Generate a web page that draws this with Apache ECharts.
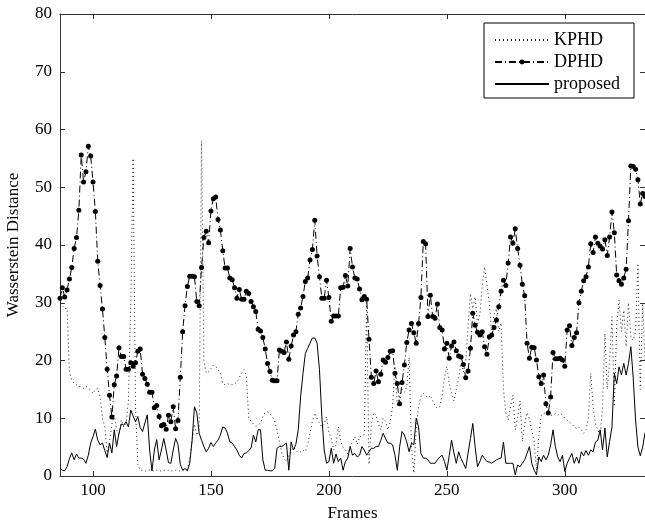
<!DOCTYPE html>
<html><head><meta charset="utf-8">
<script src="https://cdn.jsdelivr.net/npm/echarts@6/dist/echarts.min.js"></script>
<style>html,body{margin:0;padding:0;background:#fff}#c{width:645px;height:522px}</style>
</head><body><div id="c"></div>
<script>
const firstFrame = 86;
const xTicks = [100, 150, 200, 250, 300];
const seriesNames = ['KPHD', 'DPHD', 'proposed'];
const kphd = [30,29.5,29,29,18,16.6,16,15.8,15.5,15.5,15.2,15.5,15.3,14.8,14.3,15,15.2,13.7,10,8.5,4,6,9,10.5,8,7,9.7,8.5,9,13,30,55,12,2,1,1,0.8,1,1,1,0.8,1,1,0.8,1,1,1,0.8,1,1,1,0.8,1,1,1.2,3,6,9,7,8,58,20,17.8,18,18.6,19.2,19,18.4,17.8,16,15.8,16,15.8,15.8,16,16.2,17,17.8,18.4,17.5,10,9.5,9,8.6,8.8,9.2,10.3,11,11.1,10.8,10.3,9.5,8,6,4,3,2.5,3.5,4.2,5,4.5,4,4.2,4.5,4.2,5.5,7.5,9.5,10.9,10,9.2,8.5,9,10.3,7.5,6.5,4.5,5.5,8.5,6,5,4.5,3.8,5,6,6.8,5.5,6.8,7,7.2,30,2,9,11,10.5,9,8,10,9.5,8,9.5,12,19,12,14,15,14.5,15.5,20.5,5,0.5,8,12,13.7,14.3,14,13.5,14,13,12.2,11.7,12,14,17,19,16,14.5,13,15,17,19.5,18,20,26,31.6,29,31,26.4,28,33,36.2,33,30,24.7,28,29,25,26.5,15,11,9.7,12,14,8,10,13,6,9,11,10,8,6,1,7,10.5,10.8,11,10.8,10.5,10.6,10.8,10.5,10.8,10.6,10,9.7,9.3,9,8.5,8.2,8.5,8,7.4,8,10,17.8,12,9,8,7,12,24.7,15,20,27.6,12,26,30.5,25,28.7,22.4,30,24,23.5,25,36.8,15,30,20];
const dphd = [30.8,32.6,31,32.2,34.1,36.1,39.4,41.3,46,55.6,50.9,52.7,57.1,55.4,50.9,45.8,37.2,33,28.9,24,18.5,14,10.2,15.8,17.3,22.2,20.7,20.7,18.5,18.5,19.6,19,19.6,21.6,22,17.6,16.9,15.9,14.5,14.5,11.8,12.2,10.3,8.7,8.9,8.1,10.5,9.4,12,8.2,9.6,17.1,25,29.5,32.8,34.6,34.6,34.5,30.2,29.5,36.1,41.3,42.4,40.4,45.9,48,48.3,44.4,42.6,39,36,36,34.3,34,32.6,30.8,32.3,30.6,30.6,32,31.6,30.2,29.3,28.5,25.4,25.1,24,22,19.5,18.1,16.6,16.5,16.5,21.8,21.6,21.4,23.2,20.2,22.5,24.4,25,28,29.1,31.1,33.7,34.3,37.4,39.2,44.3,38.1,34.5,30.8,30.8,33.9,30.9,26.8,27.7,27.7,27.7,32.6,32.7,34.7,32.9,39.4,36.2,34.3,34.1,32.4,30.5,31.1,30.6,23.7,17.1,16,18.2,16.3,17.6,20.1,19.7,20.5,21.6,21.7,17.8,16,12.5,16.2,19.2,23.1,25.3,26.4,24.8,23,26.4,30.9,40.6,40.2,27.6,31.3,27.6,27.3,29.8,25.7,25.3,22,23,20.4,22.5,23.2,21.7,20.8,20.6,19.3,17,18.2,22.1,28.2,26.1,24.9,24.4,25,22.4,21.1,24.1,24.4,25.7,27,29.3,32,33.9,33,36.9,41.4,40.3,42.8,39.4,36.5,33.2,31.2,23,20.4,22.3,22.2,20.1,17.2,16,17.5,12.5,10.9,13.7,21.4,20.3,20.3,20.4,20.1,19,25.3,26,22.6,24,24.8,30,32,33.8,34.5,36.2,40.2,38.7,41.4,40.3,39.8,39.3,40.9,38.2,41.4,45.7,42.1,34.8,33.8,33.2,34.3,35.8,44.2,53.7,53.6,53.1,51.3,47.1,48.9,48.4];
const proposed = [1.3,1.0,0.9,1.6,3,4,2.8,3.8,3.1,3.1,2.9,2.2,3.6,5.7,6.8,8.1,6.2,5.4,5.7,4.4,3.2,5.7,4,8,5.1,7.4,9,8.8,9.4,8.5,11.4,10.4,9.4,10.3,8.4,7.7,9.2,10.6,4.5,0.9,4.5,6.3,2.8,4.5,6.5,4.5,2.3,2.2,4.5,6.5,5.5,2,1.0,1.3,0.9,2.2,6.2,12,10.9,7.4,6.2,5.1,4.2,4.8,5.8,5.1,5.7,6.2,7.1,8.5,8.3,7.4,5.9,5.7,5.1,4.5,3.6,3.1,3.9,4,4.4,4.8,7.1,5.9,8,8,2.8,1.0,1.0,0.9,0.9,1.3,4.8,5.1,5.1,5.4,5.7,1.0,5.9,4.5,5.5,8,13.7,17.7,21.2,22.1,23,23.9,23.9,23,18.4,10.3,4.5,2.2,2.5,4.8,2.2,3.8,2.5,3.1,1.0,2.5,3.1,5.1,3.6,3.9,3.3,3.6,5.1,4.5,3.6,4.2,4.8,4.8,5.1,5.1,6.2,7.4,6.5,5.7,5.7,5.4,3.6,1.0,5.1,7.7,7.1,5.9,4.2,5.7,5.4,10,8.5,3.9,3.1,3.1,2.8,2.2,2.2,2.2,2.8,3.3,3.6,2.5,1.0,3.5,6.2,4,2.2,4.2,3,2.2,1.3,4,6.5,9.1,5,1.6,2.5,3.6,3,2.5,2.4,2.2,2.5,2.8,3,3.1,5.9,2.2,2.2,2.2,2.2,0.2,1.9,1.6,2.2,2.8,3.9,5.1,2.2,1.0,0.2,3.3,2.5,3.6,2.8,3.6,5.4,8,5.1,3.3,2.5,3.6,0.8,2.2,3.1,3.9,2.2,3.3,2.2,4.2,3.5,4.4,3.6,4.5,4.2,5.9,6.2,8,4.5,8.3,3.3,6,8.5,17.8,16,18.9,17.5,19.5,17.5,19.5,22.4,17,9.7,5,3.5,5,7.5];

const toPairs = arr => arr.map((v, i) => [firstFrame + i, v]);
const font = 'Liberation Serif';
const axisCol = '#333';

const chart = echarts.init(document.getElementById('c'), null, {renderer: 'canvas'});
const xBase = {
  type: 'value', min: 86, max: 334,
  axisLine: {show: true, onZero: false, lineStyle: {color: axisCol, width: 1}},
  axisTick: {show: true, inside: true, length: 5, customValues: xTicks, lineStyle: {color: axisCol}},
  splitLine: {show: false}
};
const yBase = {
  type: 'value', min: 0, max: 80, interval: 10,
  axisLine: {show: true, onZero: false, lineStyle: {color: axisCol, width: 1}},
  axisTick: {show: true, inside: true, length: 5, lineStyle: {color: axisCol}},
  splitLine: {show: false}
};
chart.setOption({
  animation: false,
  backgroundColor: '#fff',
  grid: {left: 60, top: 14, right: 0, bottom: 46, containLabel: false, outerBoundsMode: 'none'},
  legend: {
    left: 484, top: 23, orient: 'vertical',
    data: [
      {name: seriesNames[0], itemStyle: {opacity: 0}},
      {name: seriesNames[1]},
      {name: seriesNames[2], itemStyle: {opacity: 0}}
    ],
    itemWidth: 54, itemHeight: 6, itemGap: 4,
    padding: [8, 14, 5, 10],
    borderColor: '#000', borderWidth: 1, backgroundColor: '#fff',
    textStyle: {fontFamily: font, fontSize: 18, color: '#000', lineHeight: 17}
  },
  xAxis: [
    Object.assign({}, xBase, {position: 'bottom',
      axisLabel: {show: true, customValues: xTicks, fontFamily: font, fontSize: 17, color: '#000', margin: 6},
      name: 'Frames', nameLocation: 'middle', nameGap: 29,
      nameTextStyle: {fontFamily: font, fontSize: 17, color: '#000'}}),
    Object.assign({}, xBase, {position: 'top', axisLabel: {show: false}})
  ],
  yAxis: [
    Object.assign({}, yBase, {position: 'left',
      axisLabel: {show: true, fontFamily: font, fontSize: 17, color: '#000', margin: 8},
      name: 'Wasserstein Distance', nameLocation: 'middle', nameGap: 38,
      nameTextStyle: {fontFamily: font, fontSize: 17, color: '#000'}}),
    Object.assign({}, yBase, {position: 'right', axisLabel: {show: false}})
  ],
  series: [
    {name: 'KPHD', type: 'line', data: toPairs(kphd), showSymbol: false, symbol: 'none',
     lineStyle: {color: '#222', width: 1, type: [1, 3]}, itemStyle: {color: '#222'}},
    {name: 'DPHD', type: 'line', data: toPairs(dphd), symbol: 'circle', symbolSize: 5, showAllSymbol: true,
     lineStyle: {color: '#000', width: 1, type: [7, 3, 1, 3]}, itemStyle: {color: '#000'}},
    {name: 'proposed', type: 'line', data: toPairs(proposed), showSymbol: false, symbol: 'none',
     lineStyle: {color: '#000', width: 1}, itemStyle: {color: '#000'}}
  ]
});
</script></body></html>
